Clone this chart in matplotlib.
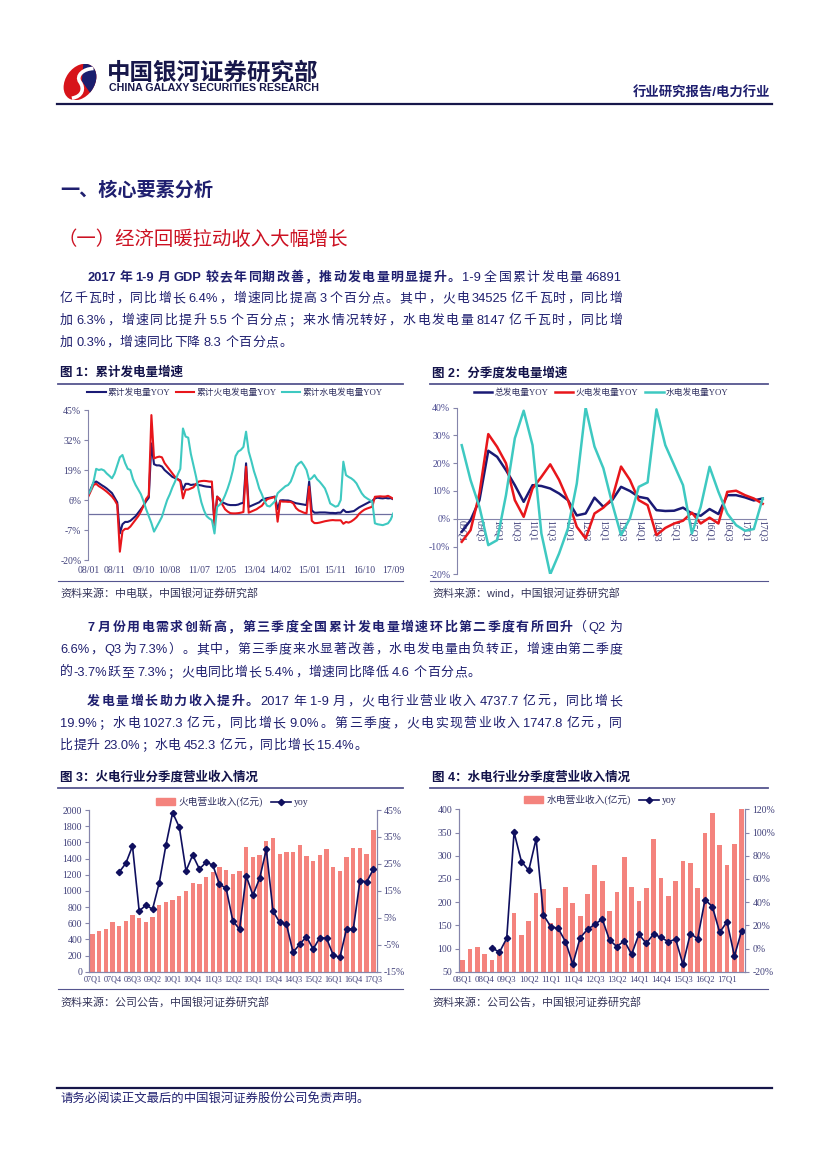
import matplotlib
matplotlib.use('Agg')
import matplotlib.pyplot as plt
import numpy as np
from matplotlib.lines import Line2D
from matplotlib.patches import Patch, Ellipse, Wedge, PathPatch
from matplotlib.path import Path
from matplotlib.ticker import FuncFormatter

plt.rcParams['font.family'] = ['Liberation Serif', 'Noto Sans CJK SC']
plt.rcParams['axes.unicode_minus'] = False

# ---------------- 数据 ----------------
# 图1 累计发电量增速 (月度, 08/01 - 17/09)
months = [f'{y:02d}/{m:02d}' for y in range(8, 18) for m in range(1, 13)][:117]
month_ticks = ['08/01', '08/11', '09/10', '10/08', '11/07', '12/05', '13/04',
               '14/02', '15/01', '15/11', '16/10', '17/09']
cum_total = [8.2, 11.0, 13.5, 14.0, 13.3, 12.5, 11.8, 11.0, 10.0, 9.0, 7.0, 5.0,
             -8.5, -4.5, -3.5, -3.5, -3.0, -2.0, -1.0, 0.5, 2.0, 3.5, 5.5, 7.0,
             30.5, 21.5, 21.0, 21.0, 20.5, 19.0, 18.0, 17.0, 16.0, 15.5, 15.0, 14.5,
             10.5, 13.0, 13.0, 12.5, 12.7, 12.7, 12.5, 12.3, 12.0, 11.8, 11.7, 11.5,
             -4.0, 7.5, 6.0, 5.0, 4.5, 4.0, 3.8, 3.8, 3.8, 4.0, 4.5, 4.8,
             21.9, 3.0, 3.5, 4.0, 4.5, 5.0, 6.0, 6.5, 6.8, 7.0, 7.2, 7.5,
             2.0, 5.8, 5.9, 5.8, 5.8, 5.5, 5.0, 4.6, 4.4, 4.2, 4.0, 3.8,
             14.0, 1.5, 0.5, 0.5, 0.6, 0.6, 0.6, 0.5, 0.4, 0.4, 0.3, 0.5,
             0.5, 1.8, 0.8, 0.8, 1.0, 1.2, 2.0, 2.8, 3.4, 4.0, 4.6, 5.2,
             5.6, 6.7, 7.0, 6.8, 6.7, 6.9, 6.7, 6.8, 6.3]
cum_thermal = [7.5, 10.0, 12.5, 13.0, 12.0, 11.3, 10.5, 9.6, 8.6, 7.5, 6.0, 4.0,
               -16.4, -7.5, -6.5, -6.5, -5.5, -4.0, -2.5, -1.0, 1.0, 3.5, 6.5, 8.0,
               42.8, 24.0, 24.5, 24.8, 24.5, 22.0, 20.5, 19.0, 17.5, 16.0, 15.0, 14.0,
               6.7, 10.5, 10.5, 11.0, 11.5, 13.0, 14.0, 14.2, 14.3, 14.2, 14.0, 14.0,
               -4.9, 7.4, 6.5, 4.0, 2.0, 1.0, 0.3, 0.2, 0.2, 0.3, 0.5, 0.8,
               20.4, 0.5, 1.0, 1.5, 2.0, 2.8, 3.5, 5.0, 6.3, 6.7, 7.0, 7.4,
               -3.4, 5.5, 5.3, 5.3, 5.2, 5.2, 4.5, 2.5, 1.5, 1.0, 0.5, 0.2,
               11.8, -3.0, -4.0, -4.0, -3.8, -3.5, -3.2, -3.0, -2.8, -2.7, -2.8, -2.8,
               -2.8, -4.3, -3.5, -3.8, -3.3, -2.5, -1.5, 0.0, 1.0, 1.8, 2.3, 2.7,
               3.1, 7.4, 7.5, 7.6, 7.5, 7.5, 7.8, 7.2, 6.5]
cum_hydro = [8.5, 10.5, 14.0, 19.5, 19.0, 19.3, 18.8, 17.5, 16.5, 15.4, 17.5, 21.0,
             24.5, 25.5, 22.0, 19.5, 19.0, 15.0, 12.5, 10.5, 8.5, 5.5, 2.0, -1.0,
             -4.0, -7.7, -5.6, -3.5, -1.3, 2.5, 6.0, 8.5, 11.5, 14.0, 17.0, 19.5,
             37.0, 33.5, 33.0, 26.0, 21.0, 16.0, 10.0, 5.0, 1.5, -1.0, -2.0, -2.7,
             -8.5, 3.0, 4.0, 5.5, 8.0, 11.0, 14.5, 19.0, 25.0, 27.0, 27.7, 29.0,
             35.6, 27.0, 23.0, 18.5, 15.0, 11.0, 8.5, 5.5, 3.5, 3.2, 4.3, 5.5,
             8.9, 10.0, 11.0, 12.0, 12.5, 14.0, 17.0, 20.4, 21.8, 22.6, 21.0, 19.0,
             14.7, 15.5, 16.8, 15.0, 13.9, 12.5, 11.0, 8.0, 4.5, 3.8, 3.1, 3.5,
             6.0, 22.6, 16.8, 16.0, 15.4, 14.5, 13.2, 11.0, 8.9, 7.5, 6.7, 6.0,
             5.3, -4.1, -4.5, -4.7, -4.9, -4.5, -4.1, -2.5, 0.2]

# 图2 分季度发电量增速 (09Q1 - 17Q3)
gen_quarters = [f'{y:02d}Q{q}' for y in range(9, 18) for q in range(1, 5)][:35]
q_total = [-4.7, -0.5, 6.7, 24.5, 22.3, 17.5, 12.1, 6.1, 12.1, 11.8, 10.9, 9.1,
           6.7, 1.2, 1.9, 7.6, 4.3, 6.7, 11.5, 10.0, 7.9, 7.3, 3.1, 2.8,
           2.9, 4.0, 1.9, 1.1, 3.5, 1.7, 8.5, 8.5, 7.7, 6.6, 7.3]
q_thermal = [-8.3, -4.1, 9.1, 30.5, 25.9, 20.0, 6.7, 0.7, 10.9, 15.1, 19.6, 14.0,
             6.7, -2.9, -7.1, 1.9, 4.0, 7.3, 18.8, 14.0, 6.7, 4.9, -5.9, -3.3,
             -1.7, -0.7, 2.2, -1.7, 0.4, -1.7, 9.7, 10.1, 8.5, 7.3, 5.4]
q_hydro = [26.5, 13.9, 4.3, -9.5, -7.7, 8.5, 29.0, 38.9, 26.5, -5.3, -20.0, -12.5,
           -3.5, 12.7, 40.0, 26.0, 18.2, 5.5, -5.9, 0.1, 11.5, 13.1, 39.4, 26.5,
           19.3, 12.1, -5.3, 4.3, 18.7, 9.7, 1.9, -2.3, -4.3, -3.7, 7.3]

# 图3 火电行业分季度营业收入 (07Q1 - 17Q3)
th_quarters = [f'{y:02d}Q{q}' for y in range(7, 18) for q in range(1, 5)][:43]
thermal_rev = [470, 500, 530, 610, 570, 630, 700, 660, 620, 680, 820, 860, 890, 935,
               1000, 1100, 1090, 1170, 1235, 1290, 1260, 1210, 1240, 1545, 1420, 1445,
               1620, 1650, 1460, 1475, 1485, 1565, 1430, 1370, 1440, 1520, 1295, 1240,
               1420, 1530, 1535, 1460, 1748]
thermal_rev_yoy = [np.nan] * 4 + [21.9, 25.2, 31.6, 7.5, 9.7, 8.2, 18.0, 32.0, 44.0, 38.6,
                                  22.4, 28.3, 23.1, 25.6, 24.6, 17.5, 15.9, 3.8, 0.8, 20.5,
                                  13.4, 19.6, 30.4, 7.5, 3.3, 2.7, -7.8, -4.8, -2.0, -6.6,
                                  -2.4, -2.6, -8.8, -9.7, 1.0, 0.8, 18.8, 18.3, 23.0]

# 图4 水电行业分季度营业收入 (08Q1 - 17Q3)
hy_quarters = [f'{y:02d}Q{q}' for y in range(8, 18) for q in range(1, 5)][:39]
hydro_rev = [75, 98, 104, 88, 75, 95, 113, 177, 130, 160, 220, 228, 154, 187, 233,
             197, 169, 217, 281, 246, 181, 222, 298, 233, 202, 230, 335, 253, 213,
             246, 289, 285, 230, 348, 393, 323, 281, 325, 452.3]
hydro_rev_yoy = [np.nan] * 4 + [0.7, -3.3, 8.8, 100.2, 74.9, 67.4, 94.4, 28.9, 18.8, 17.4,
                                5.9, -13.4, 9.3, 16.5, 20.8, 25.4, 7.3, 1.6, 6.7, -5.0,
                                12.2, 4.4, 12.5, 9.6, 5.9, 7.9, -13.7, 12.8, 8.5, 42.1,
                                36.1, 13.9, 23.1, -6.5, 15.4]

# ---------------- 样式 ----------------
W, H = 827, 1169
SANS = ['Liberation Sans', 'Noto Sans CJK SC']
NAVY = '#1f1f6f'
DARK = '#17174a'
BLUE = '#1a1a75'
RED = '#e8161b'
CYAN = '#3ec9c1'
BAR = '#f4837d'
YOYC = '#0f0f5e'
AXC = '#8585ab'
TICKC = '#40407a'
RULEC = '#55558f'

fig = plt.figure(figsize=(W / 100, H / 100), dpi=100)
renderer = fig.canvas.get_renderer()


def fx(x):
    return x / W


def fy(y):
    return 1 - y / H


def add_ax(l, t, r, b):
    return fig.add_axes([fx(l), fy(b), (r - l) / W, (b - t) / H])


def hline(x0, x1, y, lw, color):
    fig.add_artist(Line2D([fx(x0), fx(x1)], [fy(y), fy(y)], lw=lw, color=color,
                          transform=fig.transFigure))


def put(x, y, s, size, color=NAVY, weight='normal', ha='left', family=SANS):
    return fig.text(fx(x), fy(y), s, fontsize=size, color=color, weight=weight,
                    ha=ha, va='center', family=family)


def fit_text(x, y, s, width, color, weight='normal', ha='left', family=SANS):
    t = put(x, y, s, 10, color, weight, ha, family)
    w = t.get_window_extent(renderer).width
    t.set_fontsize(10 * width / w)
    return t


def split_tokens(segs):
    toks = []
    for s, bold in segs:
        i, sp = 0, False
        while i < len(s):
            ch = s[i]
            if ch == ' ':
                sp = True
                i += 1
            elif ord(ch) < 128:
                j = i
                while j < len(s) and s[j] != ' ' and ord(s[j]) < 128:
                    j += 1
                toks.append((s[i:j], bold, sp))
                sp = False
                i = j
            else:
                toks.append((ch, bold, sp))
                sp = False
                i += 1
    return toks


def body_line(segs, y, x0=60, x1=622, justify=True, size=9.3):
    toks = split_tokens(segs)
    arts = [fig.text(0, 0, t, fontsize=size, color=NAVY, family=SANS,
                     weight='bold' if b else 'normal', va='baseline')
            for t, b, sp in toks]
    widths = [a.get_window_extent(renderer).width for a in arts]
    nxt = [toks[k + 1][2] if k + 1 < len(toks) else False for k in range(len(toks))]
    if justify:
        wts = [2.5 if s else 1.0 for s in nxt[:-1]] + [0]
        extra = x1 - x0 - sum(widths)
        gaps = [extra * w / sum(wts) for w in wts]
    else:
        gaps = [0.6 + (3.0 if s else 0) for s in nxt]
    x = x0
    for a, w, g in zip(arts, widths, gaps):
        a.set_position((fx(x), fy(y + 5)))
        x += w + g


def pct(v, p):
    return f'{v:.0f}%'


# ---------------- 页眉 ----------------
lg = add_ax(58, 64, 102, 100)
lg.set_xlim(-1.22, 1.22)
lg.set_ylim(-1, 1)
lg.axis('off')
oval = Ellipse((0, 0), 2.2, 1.6, angle=55, facecolor='#d7141a', edgecolor='none')
lg.add_patch(oval)
nav = Wedge((0.1, 0.05), 1.3, -55, 85, facecolor='#1b1f6e', edgecolor='none')
lg.add_patch(nav)
nav.set_clip_path(oval)
s_path = Path([(0.75, 0.75), (0.2, 0.75), (-0.25, 0.35), (0.0, 0.0),
               (0.25, -0.35), (0.15, -0.8), (-0.45, -0.9)],
              [Path.MOVETO] + [Path.CURVE4] * 6)
sp_patch = PathPatch(s_path, facecolor='none', edgecolor='white', lw=2.6)
lg.add_patch(sp_patch)
sp_patch.set_clip_path(oval)

fit_text(107, 73, '中国银河证券研究部', 211, DARK, weight='bold')
fit_text(109, 88, 'CHINA GALAXY SECURITIES RESEARCH', 209, DARK, weight='bold',
         family=['Liberation Sans'])
put(770, 92, '行业研究报告/电力行业', 9.6, NAVY, weight='bold', ha='right')
hline(57, 772, 104, 1.6, DARK)

# ---------------- 标题与正文 ----------------
fit_text(60, 191, '一、核心要素分析', 153, NAVY, weight='bold')
fit_text(58, 240, '（一）经济回暖拉动收入大幅增长', 290, '#cc1122')

body_line([('2017 年 1-9 月 GDP 较去年同期改善，推动发电量明显提升。', True),
           ('1-9 全国累计发电量 46891', False)], 276, x0=87)
body_line([('亿千瓦时，同比增长 6.4%，增速同比提高 3 个百分点。其中，火电 34525 亿千瓦时，同比增', False)], 297)
body_line([('加 6.3%，增速同比提升 5.5 个百分点；来水情况转好，水电发电量 8147 亿千瓦时，同比增', False)], 319)
body_line([('加 0.3%，增速同比下降 8.3 个百分点。', False)], 341, justify=False)

body_line([('7 月份用电需求创新高，第三季度全国累计发电量增速环比第二季度有所回升', True),
           ('（Q2 为', False)], 626, x0=87)
body_line([('6.6%，Q3 为 7.3%）。其中，第三季度来水显著改善，水电发电量由负转正，增速由第二季度', False)], 648)
body_line([('的-3.7%跃至 7.3%；火电同比增长 5.4%，增速同比降低 4.6 个百分点。', False)], 671, justify=False)

body_line([('发电量增长助力收入提升。', True),
           ('2017 年 1-9 月，火电行业营业收入 4737.7 亿元，同比增长', False)], 700, x0=87)
body_line([('19.9%；水电 1027.3 亿元，同比增长 9.0%。第三季度，火电实现营业收入 1747.8 亿元，同', False)], 722)
body_line([('比提升 23.0%；水电 452.3 亿元，同比增长 15.4%。', False)], 744, justify=False)

# ---------------- 图框标题、分隔线、来源 ----------------
for (x0, x1, ty, y_top, y_bot, sy, title, src) in [
        (60, 403, 373, 383.5, 581, 593, '图 1：累计发电量增速', '资料来源：中电联，中国银河证券研究部'),
        (432, 768, 373, 383.5, 581, 593, '图 2：分季度发电量增速', '资料来源：wind，中国银河证券研究部'),
        (60, 403, 777, 788, 989, 1002, '图 3：火电行业分季度营业收入情况', '资料来源：公司公告，中国银河证券研究部'),
        (432, 768, 777, 788, 989, 1002, '图 4：水电行业分季度营业收入情况', '资料来源：公司公告，中国银河证券研究部')]:
    put(x0, ty, title, 9, '#12124a', weight='bold')
    hline(x0 - 2, x1, y_top, 1.3, RULEC)
    hline(x0 - 2, x1, y_bot, 0.8, RULEC)
    put(x0, sy, src, 7.9, '#35355a')

legend_prop = {'family': ['Liberation Serif', 'Noto Sans CJK SC'], 'size': 6.3}

# ---------------- 图1 ----------------
ax1 = add_ax(88.3, 410, 393.3, 560)
xm = np.arange(len(months))
ax1.plot(xm, cum_total, color=BLUE, lw=1.5, label='累计发电量YOY')
ax1.plot(xm, cum_thermal, color=RED, lw=1.5, label='累计火电发电量YOY')
ax1.plot(xm, cum_hydro, color=CYAN, lw=1.5, label='累计水电发电量YOY')
ax1.axhline(0, color='#6f6fa0', lw=0.9, zorder=0)
ax1.set_xlim(0, len(months) - 1)
ax1.set_ylim(-20, 45)
ax1.set_yticks([-20, -7, 6, 19, 32, 45])
ax1.yaxis.set_major_formatter(FuncFormatter(pct))
ax1.set_xticks([months.index(m) for m in month_ticks])
ax1.set_xticklabels(month_ticks)
for s in ['top', 'right', 'bottom']:
    ax1.spines[s].set_visible(False)
ax1.spines['left'].set_color(AXC)
ax1.tick_params(axis='y', length=3, color=AXC, labelsize=7, labelcolor=TICKC, pad=2)
ax1.tick_params(axis='x', length=0, labelsize=7, labelcolor=TICKC, pad=4)
ax1.patch.set_alpha(0)
h, l = ax1.get_legend_handles_labels()
fig.legend(h, l, loc='center', bbox_to_anchor=(fx(235), fy(393)), ncol=3, frameon=False,
           prop=legend_prop, handlelength=2.1, handletextpad=0.25, columnspacing=0.6,
           labelcolor='#303060')

# ---------------- 图2 ----------------
ax2 = add_ax(457.3, 407.7, 767.1, 574.3)
xq = np.arange(len(gen_quarters))
ax2.plot(xq, q_total, color=BLUE, lw=1.8, label='总发电量YOY')
ax2.plot(xq, q_thermal, color=RED, lw=1.8, label='火电发电量YOY')
ax2.plot(xq, q_hydro, color=CYAN, lw=1.8, label='水电发电量YOY')
ax2.axhline(0, color=AXC, lw=0.8, zorder=0)
ax2.set_xlim(-0.5, len(xq) - 0.5)
ax2.set_ylim(-20, 40)
ax2.set_yticks(range(-20, 41, 10))
ax2.yaxis.set_major_formatter(FuncFormatter(pct))
ax2.set_xticks([])
for i in range(0, len(gen_quarters), 2):
    ax2.text(i, -0.3, gen_quarters[i], rotation=270, ha='center', va='top',
             fontsize=7, color=TICKC, zorder=0)
for s in ['top', 'right', 'bottom']:
    ax2.spines[s].set_visible(False)
ax2.spines['left'].set_color(AXC)
ax2.tick_params(axis='y', length=3, color=AXC, labelsize=7, labelcolor='#4a4a90', pad=2)
ax2.patch.set_alpha(0)
h, l = ax2.get_legend_handles_labels()
fig.legend(h, l, loc='center', bbox_to_anchor=(fx(601), fy(393)), ncol=3, frameon=False,
           prop=legend_prop, handlelength=2.1, handletextpad=0.25, columnspacing=0.8,
           labelcolor='#303060')


# ---------------- 图3 / 图4 ----------------
def rev_chart(box, cats, rev, yoy, ylim, yticks, rlim, rticks, label, lx, ly, xsize):
    ax = add_ax(*box)
    xb = np.arange(len(cats))
    ax.bar(xb, rev, width=0.65, color=BAR, zorder=1)
    ax.set_xlim(-0.5, len(cats) - 0.5)
    ax.set_ylim(*ylim)
    ax.set_yticks(yticks)
    ax.set_xticks(xb[::3])
    ax.set_xticklabels(cats[::3])
    axr = ax.twinx()
    axr.plot(xb, yoy, color=YOYC, lw=1.2, marker='D', ms=3.2)
    axr.set_ylim(*rlim)
    axr.set_yticks(rticks)
    axr.yaxis.set_major_formatter(FuncFormatter(pct))
    for a in (ax, axr):
        a.spines['top'].set_visible(False)
        for s in ['left', 'right', 'bottom']:
            a.spines[s].set_color(AXC)
    ax.tick_params(axis='y', length=3, color=AXC, labelsize=7, labelcolor=TICKC, pad=2)
    ax.tick_params(axis='x', length=0, labelsize=xsize, labelcolor=TICKC, pad=3)
    axr.tick_params(axis='y', length=3, color=AXC, labelsize=7, labelcolor=TICKC, pad=2)
    handles = [Patch(color=BAR), Line2D([], [], color=YOYC, lw=1.2, marker='D', ms=3.2)]
    fig.legend(handles, [label, 'yoy'], loc='center', bbox_to_anchor=(fx(lx), fy(ly)),
               ncol=2, frameon=False, prop={'family': ['Liberation Serif', 'Noto Sans CJK SC'],
                                            'size': 7},
               handlelength=2.0, handletextpad=0.3, columnspacing=0.9, labelcolor='#303060')


rev_chart((89, 810, 376.7, 971.7), th_quarters, thermal_rev, thermal_rev_yoy,
          (0, 2000), range(0, 2001, 200), (-15, 45), range(-15, 46, 10),
          '火电营业收入(亿元)', 232, 802, 5.9)
rev_chart((459, 809.3, 745.4, 971.7), hy_quarters, hydro_rev, hydro_rev_yoy,
          (50, 400), range(50, 401, 50), (-20, 120), range(-20, 121, 20),
          '水电营业收入(亿元)', 600, 800, 6.3)

# ---------------- 页脚 ----------------
hline(57, 772, 1088, 1.6, DARK)
fit_text(60, 1100, '请务必阅读正文最后的中国银河证券股份公司免责声明。', 308, NAVY)

fig.savefig('out.png', dpi=100)
